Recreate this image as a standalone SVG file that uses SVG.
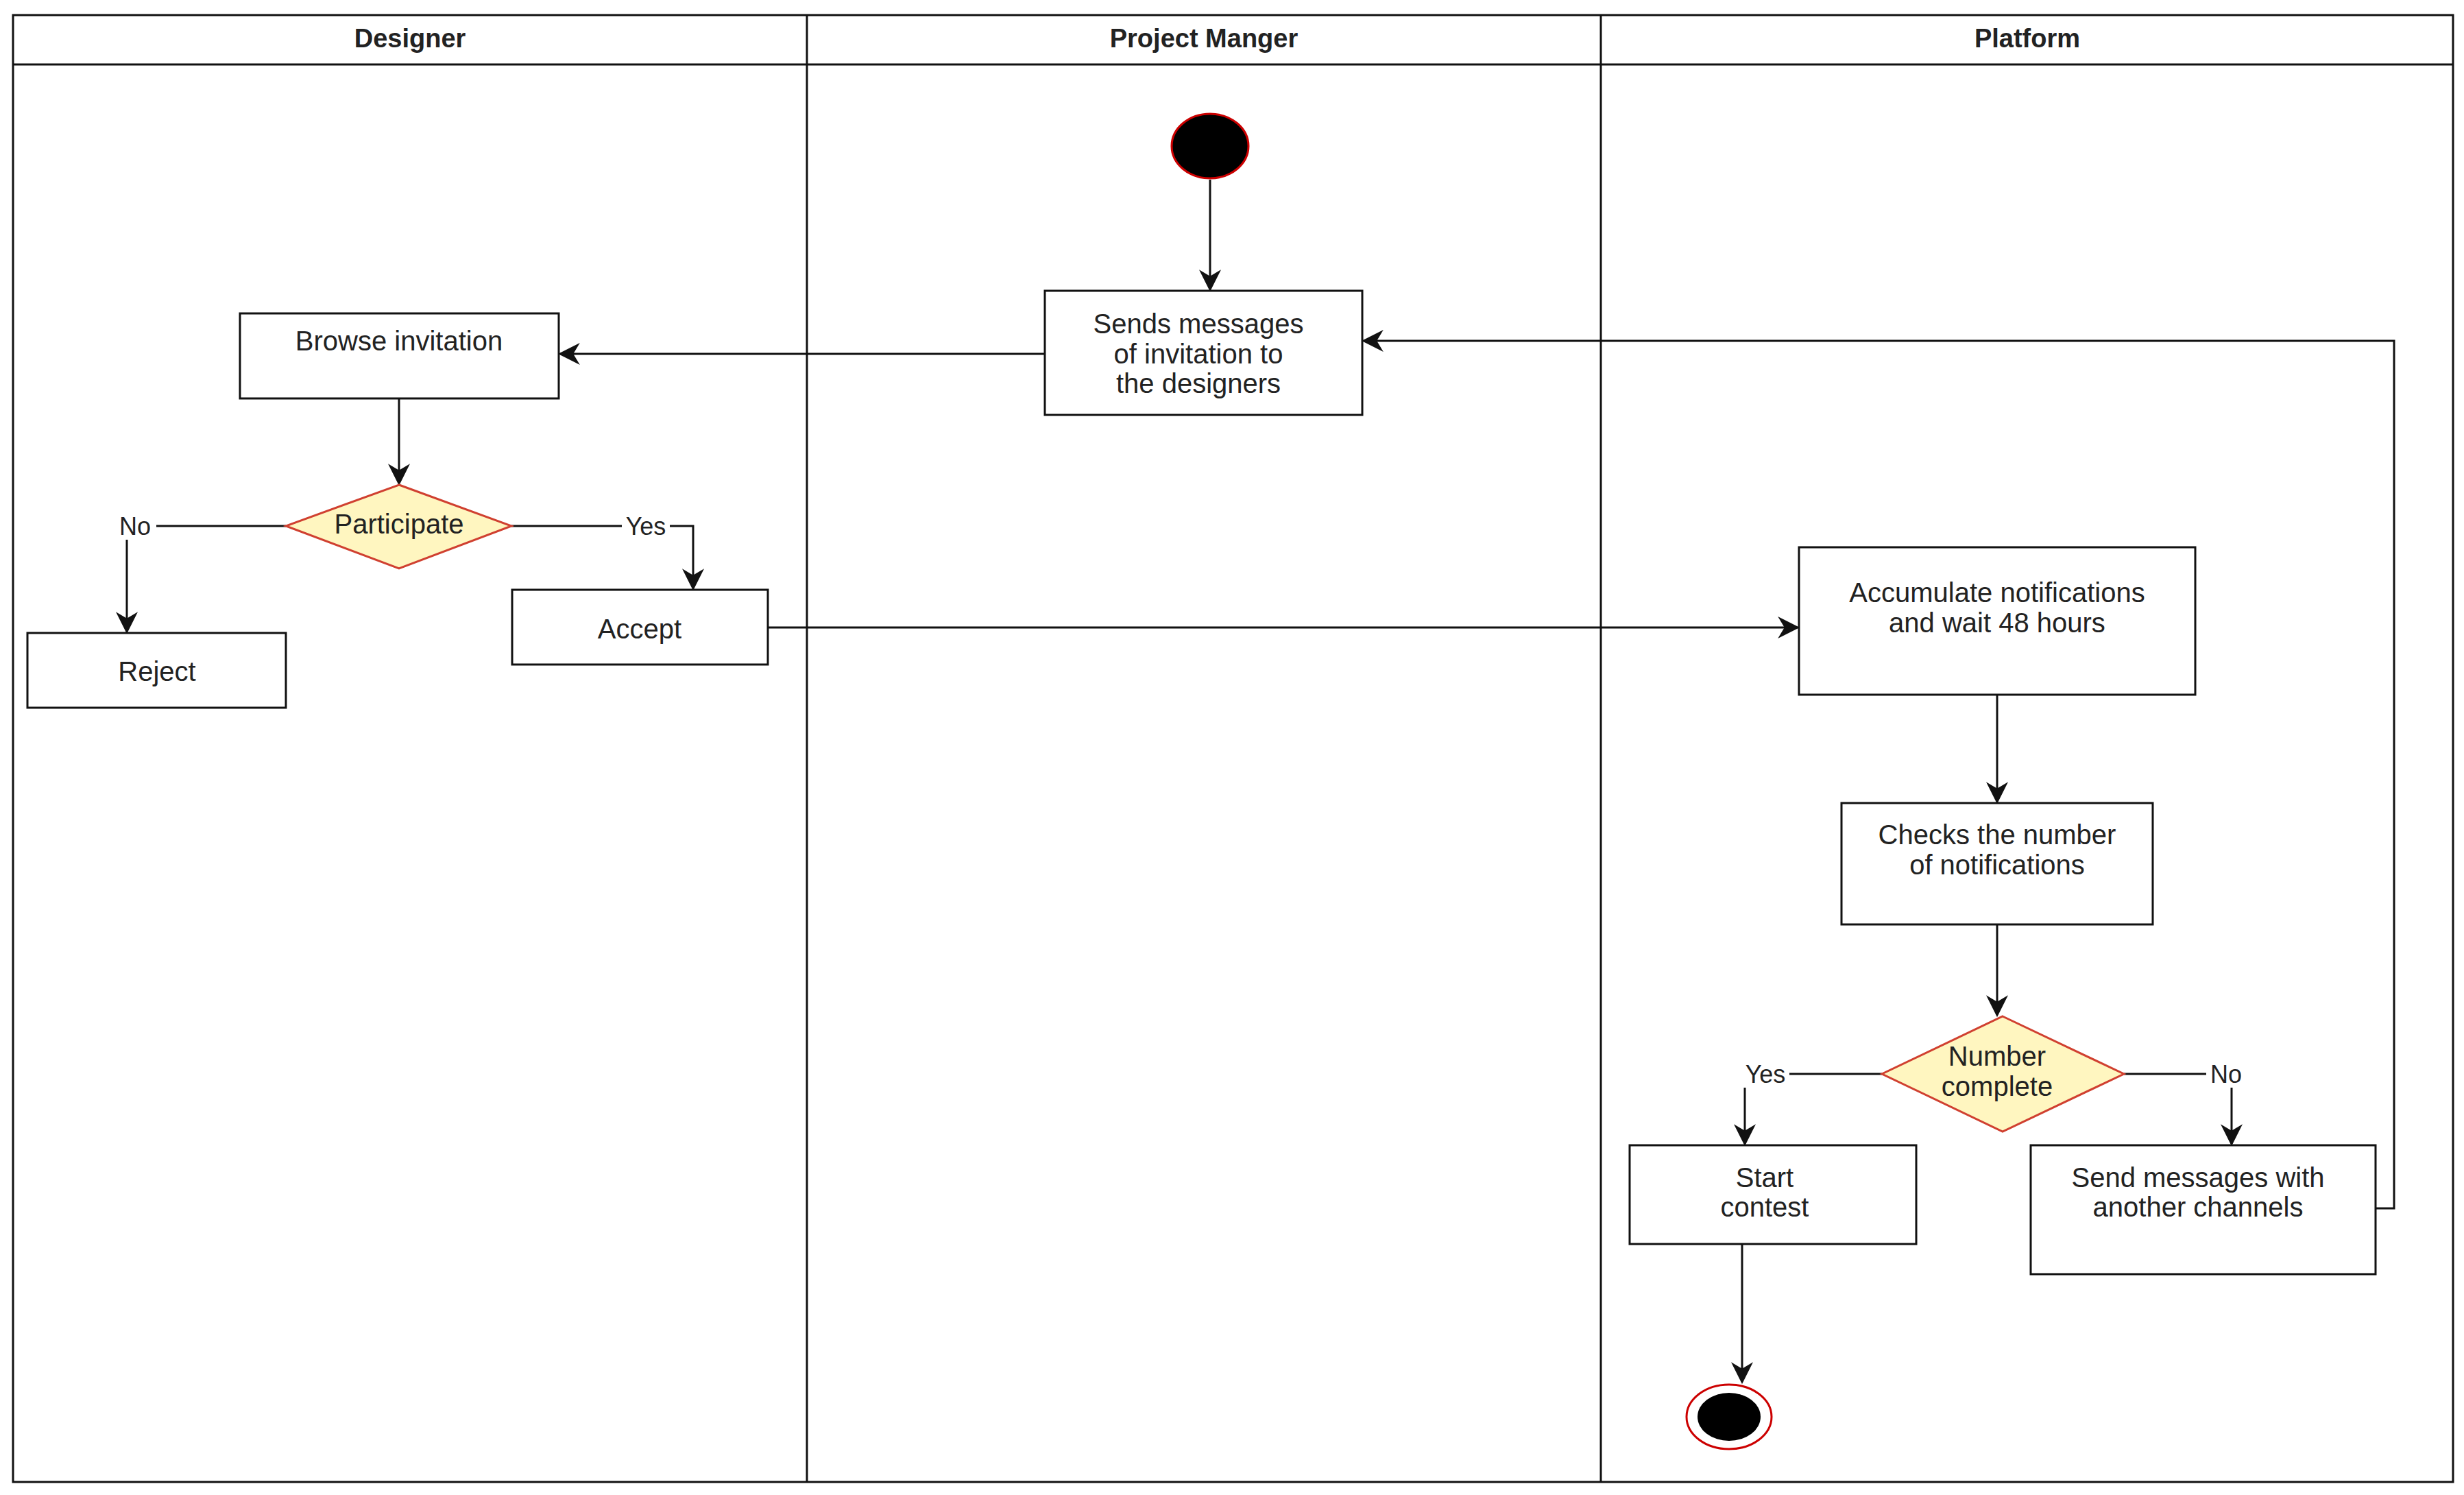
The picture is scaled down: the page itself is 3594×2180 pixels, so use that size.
<svg xmlns="http://www.w3.org/2000/svg" width="3594" height="2180" viewBox="0 0 3594 2180">
<style>
text{font-family:"Liberation Sans",Arial,sans-serif;font-size:40px;fill:#222;text-anchor:middle;dominant-baseline:central}
.h{font-weight:bold;font-size:38px}
.lbl{font-size:36px}
.box{fill:#fff;stroke:#111;stroke-width:3}
.dia{fill:#fff6c0;stroke:#d04030;stroke-width:3}
.ln{fill:none;stroke:#111;stroke-width:3}
</style>
<defs><marker id="a" viewBox="0 0 10 10" refX="9" refY="5" markerWidth="10" markerHeight="10" markerUnits="userSpaceOnUse" orient="auto"><path d="M0,0 L10,5 L0,10 L3,5 z" fill="#111" transform="scale(1)"/></marker>
<marker id="b" viewBox="0 0 10 10" refX="9" refY="5" markerWidth="32" markerHeight="32" markerUnits="userSpaceOnUse" orient="auto"><path d="M0,0 L10,5 L0,10 L3,5 z" fill="#111"/></marker></defs>
<rect width="3594" height="2180" fill="#fff"/>
<g id="lanes">
<rect x="19" y="22" width="3559" height="2139" fill="none" stroke="#111" stroke-width="3"/>
<line x1="19" y1="94" x2="3578" y2="94" class="ln"/>
<line x1="1177" y1="22" x2="1177" y2="2161" class="ln"/>
<line x1="2335" y1="22" x2="2335" y2="2161" class="ln"/>
<text x="598" y="56" class="h">Designer</text>
<text x="1756" y="56" class="h">Project Manger</text>
<text x="2957" y="56" class="h">Platform</text>
</g>
<g id="connectors">
<path d="M1765,262 V422" class="ln" marker-end="url(#b)"/>
<path d="M1524,516 H817" class="ln" marker-end="url(#b)"/>
<path d="M582,581 V705" class="ln" marker-end="url(#b)"/>
<path d="M417,767 H185 V921" class="ln" marker-end="url(#b)"/>
<path d="M746,767 H1011 V858" class="ln" marker-end="url(#b)"/>
<path d="M1120,915 H2622" class="ln" marker-end="url(#b)"/>
<path d="M2913,1013 V1169" class="ln" marker-end="url(#b)"/>
<path d="M2913,1348 V1480" class="ln" marker-end="url(#b)"/>
<path d="M2745,1566 H2545 V1668" class="ln" marker-end="url(#b)"/>
<path d="M3098,1566 H3255 V1668" class="ln" marker-end="url(#b)"/>
<path d="M2541,1814 V2015" class="ln" marker-end="url(#b)"/>
<path d="M3465,1762 H3492 V497 H1989" class="ln" marker-end="url(#b)"/>
<rect x="170" y="747" width="58" height="40" fill="#fff"/><text x="197" y="767" class="lbl">No</text>
<rect x="907" y="747" width="70" height="40" fill="#fff"/><text x="942" y="767" class="lbl">Yes</text>
<rect x="2540" y="1546" width="70" height="40" fill="#fff"/><text x="2575" y="1566" class="lbl">Yes</text>
<rect x="3218" y="1546" width="58" height="40" fill="#fff"/><text x="3247" y="1566" class="lbl">No</text>
</g>
<g id="start"><ellipse cx="1765" cy="213" rx="56" ry="47" fill="#000" stroke="#c00" stroke-width="3"/></g>
<g id="sends"><rect x="1524" y="424" width="463" height="181" class="box"/><text x="1748" y="472">Sends messages</text><text x="1748" y="516">of invitation to</text><text x="1748" y="559">the designers</text></g>
<g id="browse"><rect x="350" y="457" width="465" height="124" class="box"/><text x="582" y="497">Browse invitation</text></g>
<g id="participate"><polygon points="582,707 746,767 582,829 417,767" class="dia"/><text x="582" y="764">Participate</text></g>
<g id="reject"><rect x="40" y="923" width="377" height="109" class="box"/><text x="229" y="979">Reject</text></g>
<g id="accept"><rect x="747" y="860" width="373" height="109" class="box"/><text x="933" y="917">Accept</text></g>
<g id="accumulate"><rect x="2624" y="798" width="578" height="215" class="box"/><text x="2913" y="864">Accumulate notifications</text><text x="2913" y="908">and wait 48 hours</text></g>
<g id="checks"><rect x="2686" y="1171" width="454" height="177" class="box"/><text x="2913" y="1217">Checks the number</text><text x="2913" y="1261">of notifications</text></g>
<g id="number"><polygon points="2921,1482 3098,1566 2921,1650 2745,1566" class="dia"/><text x="2913" y="1540">Number</text><text x="2913" y="1584">complete</text></g>
<g id="startcontest"><rect x="2377" y="1670" width="418" height="144" class="box"/><text x="2574" y="1717">Start</text><text x="2574" y="1760">contest</text></g>
<g id="sendother"><rect x="2962" y="1670" width="503" height="188" class="box"/><text x="3206" y="1717">Send messages with</text><text x="3206" y="1760">another channels</text></g>
<g id="end"><ellipse cx="2522" cy="2066" rx="62" ry="47" fill="#fff" stroke="#c00" stroke-width="3"/><ellipse cx="2522" cy="2066" rx="46" ry="35" fill="#000"/></g>
</svg>
